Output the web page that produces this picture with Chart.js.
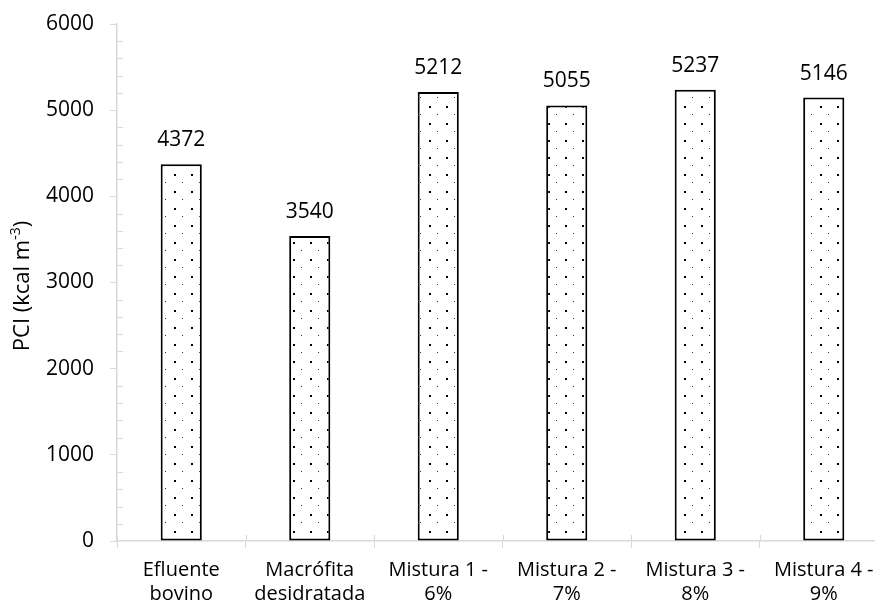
<!DOCTYPE html>
<html>
<head>
<meta charset="utf-8">
<script src="https://cdn.jsdelivr.net/npm/chart.js@4.4.0/dist/chart.umd.min.js"></script>
<style>
  html, body { margin: 0; padding: 0; background: #fff; overflow: hidden; }
  #wrap { width: 890px; height: 610px; }
</style>
</head>
<body>
<div id="wrap"><canvas id="c" width="890" height="610"></canvas></div>
<script>
const categories = [
  ["Efluente", "bovino"],
  ["Macrófita", "desidratada"],
  ["Mistura 1 -", "6%"],
  ["Mistura 2 -", "7%"],
  ["Mistura 3 -", "8%"],
  ["Mistura 4 -", "9%"]
];
const pciValues = [4372, 3540, 5212, 5055, 5237, 5146];
const yTicks = [0, 1000, 2000, 3000, 4000, 5000, 6000];
const yTitleMain = "PCI (kcal m";
const yTitleSup = "-3";
const yTitleEnd = ")";

const FONT = "'Open Sans', 'DejaVu Sans', sans-serif";
const AXIS_GRAY = "#d9d9d9";

function makePattern() {
  const t = document.createElement('canvas');
  t.width = 17; t.height = 17;
  const g = t.getContext('2d');
  g.fillStyle = '#ffffff';
  g.fillRect(0, 0, 17, 17);
  g.fillStyle = '#000000';
  g.fillRect(4, 4, 2, 2);
  g.fillStyle = '#333333';
  g.fillRect(12, 12, 1, 1);
  return document.getElementById('c').getContext('2d').createPattern(t, 'repeat');
}

const decorPlugin = {
  id: 'decor',
  afterDraw(chart) {
    const ctx = chart.ctx;
    const y = chart.scales.y, x = chart.scales.x;
    const area = chart.chartArea;
    ctx.save();
    ctx.strokeStyle = AXIS_GRAY;
    ctx.lineWidth = 1;
    for (let v = 0; v <= 6000; v += 200) {
      if (v % 1000 === 0) continue;
      const py = Math.round(y.getPixelForValue(v)) + 0.5;
      ctx.beginPath();
      ctx.moveTo(area.left, py);
      ctx.lineTo(area.left + 6, py);
      ctx.stroke();
    }
    const n = categories.length;
    for (let i = 0; i <= n; i++) {
      const px = Math.round(x.getPixelForValue(i - 0.5)) + 0.5;
      ctx.beginPath();
      ctx.moveTo(px, area.bottom);
      ctx.lineTo(px, area.bottom - 6);
      ctx.stroke();
    }
    ctx.fillStyle = '#000';
    ctx.font = "21px " + FONT;
    ctx.textAlign = 'center';
    ctx.textBaseline = 'middle';
    const meta = chart.getDatasetMeta(0);
    meta.data.forEach((bar, i) => {
      ctx.fillText(String(pciValues[i]), bar.x, bar.y - 24);
    });
    ctx.translate(23, 286);
    ctx.rotate(-Math.PI / 2);
    ctx.textBaseline = 'middle';
    ctx.textAlign = 'left';
    ctx.font = "22px " + FONT;
    const w1 = ctx.measureText(yTitleMain).width;
    ctx.font = "14px " + FONT;
    const w2 = ctx.measureText(yTitleSup).width;
    ctx.font = "22px " + FONT;
    const w3 = ctx.measureText(yTitleEnd).width;
    let sx = -(w1 + w2 + w3) / 2;
    ctx.fillText(yTitleMain, sx, 0);
    sx += w1;
    ctx.font = "14px " + FONT;
    ctx.fillText(yTitleSup, sx, -7);
    sx += w2;
    ctx.font = "22px " + FONT;
    ctx.fillText(yTitleEnd, sx, 0);
    ctx.restore();
  }
};

new Chart(document.getElementById('c'), {
  type: 'bar',
  data: {
    labels: categories,
    datasets: [{
      data: pciValues,
      backgroundColor: makePattern(),
      borderColor: '#000',
      borderWidth: 2,
      borderSkipped: false,
      barPercentage: 0.32,
      categoryPercentage: 1.0
    }]
  },
  options: {
    responsive: false,
    animation: false,
    layout: { padding: { top: 24, right: 2, left: 0, bottom: 0 } },
    plugins: { legend: { display: false }, tooltip: { enabled: false } },
    scales: {
      x: {
        offset: true,
        grid: { offset: true, drawOnChartArea: false, color: AXIS_GRAY, tickLength: 7, lineWidth: 1 },
        border: { color: AXIS_GRAY, width: 1.5 },
        ticks: { color: '#000', font: { family: FONT, size: 20, lineHeight: 1.2 }, padding: 10, maxRotation: 0, autoSkip: false },
        afterFit(scale) { scale.height = 69; scale.paddingLeft = 0; scale.paddingRight = 0; }
      },
      y: {
        min: 0, max: 6000,
        afterBuildTicks(scale) { scale.ticks = yTicks.map(v => ({ value: v })); },
        grid: { drawOnChartArea: false, color: AXIS_GRAY, tickLength: 7, lineWidth: 1 },
        border: { color: AXIS_GRAY, width: 1.5 },
        ticks: { color: '#000', font: { family: FONT, size: 21 }, padding: 16, callback: (v) => String(v) },
        afterFit(scale) { scale.width = 117; scale.paddingTop = 0; scale.paddingBottom = 0; }
      }
    }
  },
  plugins: [decorPlugin]
});
</script>
</body>
</html>
